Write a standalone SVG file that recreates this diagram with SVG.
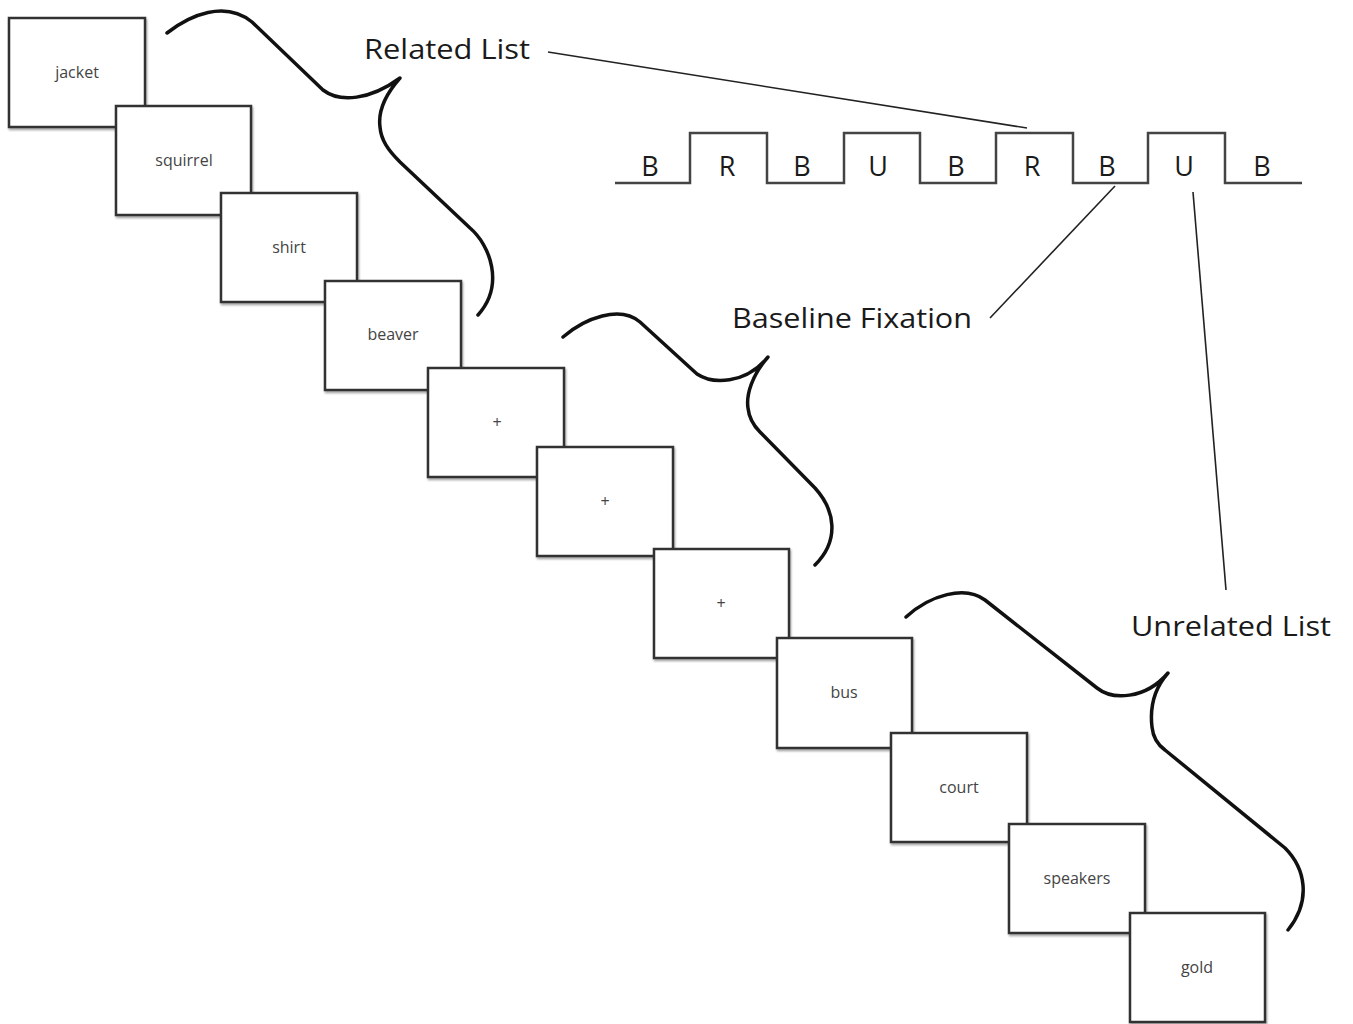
<svg xmlns="http://www.w3.org/2000/svg" width="1353" height="1024" viewBox="0 0 1353 1024">
<defs>
<style>
.box rect{fill:#fff;stroke:#333;stroke-width:2.5}
.box text{font-family:"Open Sans","Noto Sans",sans-serif;font-size:16px;fill:#444;text-anchor:middle}
.lbl{font-family:"Open Sans","Noto Sans",sans-serif;font-size:28px;font-weight:500;fill:#1a1a1a}
.wl{font-family:"Open Sans","Noto Sans",sans-serif;font-size:27px;font-weight:500;fill:#1a1a1a;text-anchor:middle}
.brace{fill:none;stroke:#111;stroke-width:3.5;stroke-linecap:round;stroke-linejoin:round}
.conn{fill:none;stroke:#222;stroke-width:1.6}
.wave{fill:none;stroke:#444;stroke-width:2.5}
</style>
<filter id="sh" x="-10%" y="-10%" width="130%" height="130%">
<feGaussianBlur in="SourceAlpha" stdDeviation="1.2"/>
<feOffset dx="1" dy="1.5" result="b"/>
<feComponentTransfer><feFuncA type="linear" slope="0.35"/></feComponentTransfer>
<feMerge><feMergeNode/><feMergeNode in="SourceGraphic"/></feMerge>
</filter>
</defs>
<rect width="1353" height="1024" fill="#fff"/>

<g id="box-jacket" class="box"><rect x="9" y="18" width="136" height="109" filter="url(#sh)"/><text x="77" y="78">jacket</text></g>
<g id="box-squirrel" class="box"><rect x="116" y="106" width="135" height="109" filter="url(#sh)"/><text x="184" y="166">squirrel</text></g>
<g id="box-shirt" class="box"><rect x="221" y="193" width="136" height="109" filter="url(#sh)"/><text x="289" y="253">shirt</text></g>
<g id="box-beaver" class="box"><rect x="325" y="281" width="136" height="109" filter="url(#sh)"/><text x="393" y="340">beaver</text></g>
<g id="box-fix1" class="box"><rect x="428" y="368" width="136" height="109" filter="url(#sh)"/><text x="497" y="428">+</text></g>
<g id="box-fix2" class="box"><rect x="537" y="447" width="136" height="109" filter="url(#sh)"/><text x="605" y="507">+</text></g>
<g id="box-fix3" class="box"><rect x="654" y="549" width="135" height="109" filter="url(#sh)"/><text x="721" y="609">+</text></g>
<g id="box-bus" class="box"><rect x="777" y="638" width="135" height="110" filter="url(#sh)"/><text x="844" y="698">bus</text></g>
<g id="box-court" class="box"><rect x="891" y="733" width="136" height="109" filter="url(#sh)"/><text x="959" y="793">court</text></g>
<g id="box-speakers" class="box"><rect x="1009" y="824" width="136" height="109" filter="url(#sh)"/><text x="1077" y="884">speakers</text></g>
<g id="box-gold" class="box"><rect x="1130" y="913" width="135" height="109" filter="url(#sh)"/><text x="1197" y="973">gold</text></g>

<g id="braces">
<path class="brace" d="M167,33 C190,15 225,0 252,22 L323,90 C340,103 370,100 400,78 C385,95 378,112 380,127 C381,140 388,150 400,162 L470,228 C490,245 505,285 478,315"/>
<path class="brace" d="M563,337 C585,318 620,305 640,322 L697,374 C712,384 745,385 768,357 C752,375 746,395 748,408 C749,418 753,425 760,432 L815,488 C835,510 840,540 815,565"/>
<path class="brace" d="M906,617 C930,595 965,585 985,600 L1097,688 C1112,700 1145,700 1168,673 C1153,690 1150,710 1152,727 C1153,737 1158,745 1165,750 L1285,848 C1305,868 1312,900 1288,930"/>
</g>

<g id="sequence">
<path class="wave" d="M615,183 H690 V133 H767 V183 H844 V133 H920 V183 H996 V133 H1073 V183 H1148 V133 H1225 V183 H1302"/>
<text class="wl" x="650" y="176">B</text>
<text class="wl" x="727" y="176">R</text>
<text class="wl" x="802" y="176">B</text>
<text class="wl" x="878" y="176">U</text>
<text class="wl" x="956" y="176">B</text>
<text class="wl" x="1032" y="176">R</text>
<text class="wl" x="1107" y="176">B</text>
<text class="wl" x="1184" y="176">U</text>
<text class="wl" x="1262" y="176">B</text>
</g>

<g id="connectors">
<line class="conn" x1="548" y1="52" x2="1027" y2="128"/>
<line class="conn" x1="990" y1="318" x2="1115" y2="186"/>
<line class="conn" x1="1226" y1="590" x2="1193" y2="192"/>
</g>

<g id="labels">
<text class="lbl" x="364" y="59" textLength="166" lengthAdjust="spacingAndGlyphs">Related List</text>
<text class="lbl" x="732" y="328" textLength="240" lengthAdjust="spacingAndGlyphs">Baseline Fixation</text>
<text class="lbl" x="1131" y="636" textLength="200" lengthAdjust="spacingAndGlyphs">Unrelated List</text>
</g>
</svg>
